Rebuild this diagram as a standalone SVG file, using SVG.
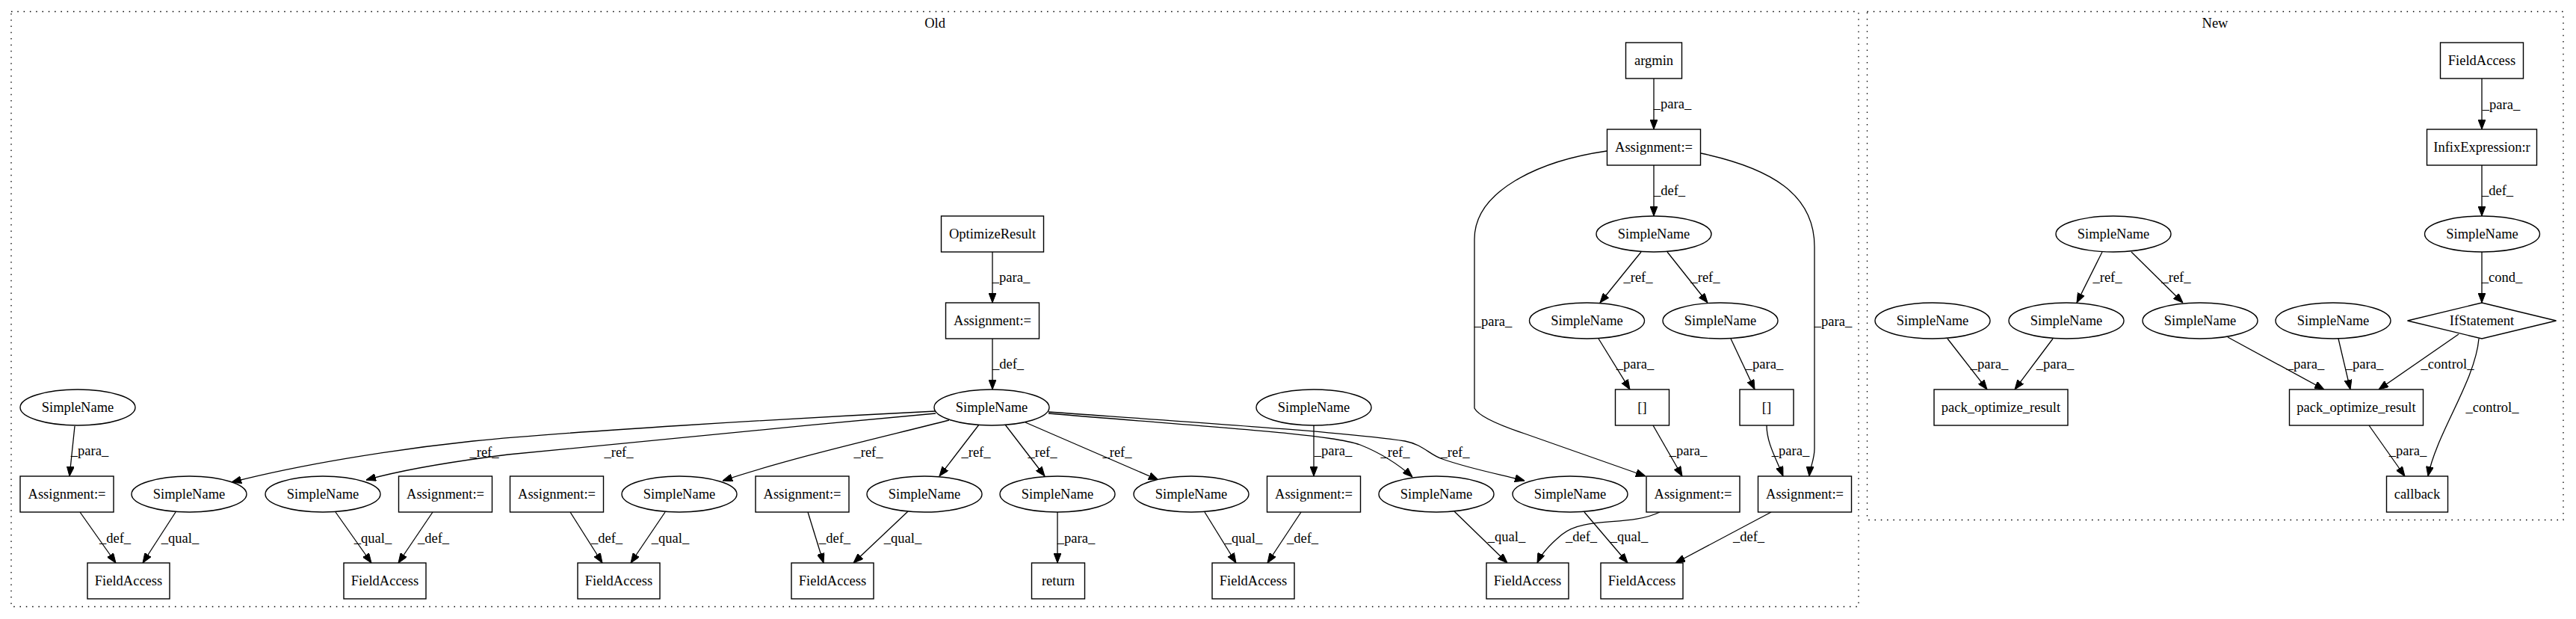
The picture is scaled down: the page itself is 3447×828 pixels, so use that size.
<svg xmlns="http://www.w3.org/2000/svg" width="3447" height="828" viewBox="0 0 3447 828">
<style>
text{font-family:"Liberation Serif","Times New Roman",serif;font-size:18.5px;fill:#000;text-anchor:middle}
.n rect,.n ellipse,.n polygon{fill:#fff;stroke:#000;stroke-width:1.4}
.e path{fill:none;stroke:#000;stroke-width:1.3;marker-end:url(#arr)}
.cl{fill:none;stroke:#000;stroke-width:1.3;stroke-dasharray:1.5 6.8}
</style>
<defs>
<marker id="arr" viewBox="0 0 13 10" refX="13" refY="5" markerWidth="13" markerHeight="10" markerUnits="userSpaceOnUse" orient="auto">
<path d="M0,0 L13,5 L0,10 z" fill="#000" stroke="#000" stroke-width="1"/>
</marker>
</defs>
<rect width="3447" height="828" fill="#fff"/>
<g id="clusters">
<rect class="cl" x="15" y="15.5" width="2472" height="796"/>
<text x="1251" y="37">Old</text>
<rect class="cl" x="2498.5" y="15.5" width="931.5" height="680"/>
<text x="2964" y="37">New</text>
</g>
<g id="connectors" class="e">
<path d="M2213,105 L2213,173"/>
<path d="M2213,221 L2213,289"/>
<path d="M2150,202 C2060,215 1973,255 1973,320 L1973,546 Q1980,560 2040,580 L2202,637"/>
<path d="M2276,205 C2370,225 2428,260 2428,330 L2428,600 C2428,615 2422,625 2421,637"/>
<path d="M2196,337 L2141,405"/>
<path d="M2231,337 L2285,405"/>
<path d="M2139,453 L2181,521"/>
<path d="M2316,453 L2348,521"/>
<path d="M2212,569 L2251,637"/>
<path d="M2364,569 C2364,592 2376,612 2386,637"/>
<path d="M2221,685 C2180,705 2120,690 2090,715 C2072,730 2062,742 2057,753"/>
<path d="M2370,685 L2242,753"/>
<path d="M1946,684 L2017,753"/>
<path d="M2120,685 L2178,753"/>
<path d="M1328,337 L1328,405"/>
<path d="M1328,453 L1328,521"/>
<path d="M1252,550 C1050,560 750,578 633,590 C520,602 400,622 310,645"/>
<path d="M1252,553 C1050,572 800,595 680,608 C600,618 540,628 490,642"/>
<path d="M1270,562 C1180,585 1060,612 967,643"/>
<path d="M1310,568 L1257,637"/>
<path d="M1345,568 L1398,637"/>
<path d="M1372,565 L1550,642"/>
<path d="M1403,553 C1600,570 1780,580 1820,595 C1850,607 1870,620 1890,638"/>
<path d="M1403,551 C1600,565 1800,578 1880,590 C1905,595 1912,608 1930,614 C1970,628 2010,635 2040,643"/>
<path d="M1415,685 L1415,753"/>
<path d="M1758,569 L1758,637"/>
<path d="M1741,685 L1696,753"/>
<path d="M1612,685 L1654,753"/>
<path d="M100,570 L93,637"/>
<path d="M107,685 L155,753"/>
<path d="M235,685 L191,753"/>
<path d="M449,685 L497,753"/>
<path d="M579,685 L533,753"/>
<path d="M763,685 L806,753"/>
<path d="M890,685 L844,753"/>
<path d="M1081,685 L1102,753"/>
<path d="M1215,684 L1142,753"/>
<path d="M3321,105 L3321,173"/>
<path d="M3321,221 L3321,289"/>
<path d="M3321,337 L3321,405"/>
<path d="M2813,337 L2779,405"/>
<path d="M2852,337 L2921,405"/>
<path d="M2606,453 L2659,521"/>
<path d="M2747,453 L2696,521"/>
<path d="M2981,451 L3110,521"/>
<path d="M3129,453 L3145,521"/>
<path d="M3290,447 L3183,521"/>
<path d="M3317,453 C3312,510 3260,580 3249,637"/>
<path d="M3170,569 L3218,637"/>
</g>
<g id="edge-labels">
<text x="2238" y="145">_para_</text>
<text x="2234" y="261">_def_</text>
<text x="1998" y="436">_para_</text>
<text x="2453" y="436">_para_</text>
<text x="2192" y="377">_ref_</text>
<text x="2282" y="377">_ref_</text>
<text x="2188" y="493">_para_</text>
<text x="2361" y="493">_para_</text>
<text x="2259" y="609">_para_</text>
<text x="2396" y="609">_para_</text>
<text x="2116" y="724">_def_</text>
<text x="2340" y="724">_def_</text>
<text x="2016" y="724">_qual_</text>
<text x="2180" y="724">_qual_</text>
<text x="1353" y="377">_para_</text>
<text x="1349" y="493">_def_</text>
<text x="648" y="611">_ref_</text>
<text x="828" y="611">_ref_</text>
<text x="1162" y="611">_ref_</text>
<text x="1306" y="611">_ref_</text>
<text x="1395" y="611">_ref_</text>
<text x="1495" y="611">_ref_</text>
<text x="1867" y="611">_ref_</text>
<text x="1947" y="611">_ref_</text>
<text x="1440" y="726">_para_</text>
<text x="1784" y="609">_para_</text>
<text x="1743" y="726">_def_</text>
<text x="1664" y="726">_qual_</text>
<text x="120" y="609">_para_</text>
<text x="154" y="726">_def_</text>
<text x="241" y="726">_qual_</text>
<text x="499" y="726">_qual_</text>
<text x="580" y="726">_def_</text>
<text x="812" y="726">_def_</text>
<text x="897" y="726">_qual_</text>
<text x="1117" y="726">_def_</text>
<text x="1208" y="726">_qual_</text>
<text x="3347" y="146">_para_</text>
<text x="3342" y="261">_def_</text>
<text x="3348" y="377">_cond_</text>
<text x="2820" y="377">_ref_</text>
<text x="2912" y="377">_ref_</text>
<text x="2662" y="493">_para_</text>
<text x="2750" y="493">_para_</text>
<text x="3085" y="493">_para_</text>
<text x="3164" y="493">_para_</text>
<text x="3275" y="493">_control_</text>
<text x="3335" y="551">_control_</text>
<text x="3222" y="609">_para_</text>
</g>
<g id="o_argmin" class="n"><rect x="2175.5" y="57" width="75" height="48"/><text x="2213" y="87">argmin</text></g>
<g id="o_assign0" class="n"><rect x="2150.5" y="173" width="125" height="48"/><text x="2213" y="203">Assignment:=</text></g>
<g id="o_optres" class="n"><rect x="1259.5" y="289" width="137" height="48"/><text x="1328" y="319">OptimizeResult</text></g>
<g id="o_sn0" class="n"><ellipse cx="2213" cy="313" rx="77" ry="24"/><text x="2213" y="319">SimpleName</text></g>
<g id="o_assign1" class="n"><rect x="1265.5" y="405" width="125" height="48"/><text x="1328" y="435">Assignment:=</text></g>
<g id="o_sn1" class="n"><ellipse cx="2123.5" cy="429" rx="77" ry="24"/><text x="2123.5" y="435">SimpleName</text></g>
<g id="o_sn2" class="n"><ellipse cx="2302" cy="429" rx="77" ry="24"/><text x="2302" y="435">SimpleName</text></g>
<g id="o_sn3" class="n"><ellipse cx="104" cy="545" rx="77" ry="24"/><text x="104" y="551">SimpleName</text></g>
<g id="o_snm" class="n"><ellipse cx="1327" cy="545" rx="77" ry="24"/><text x="1327" y="551">SimpleName</text></g>
<g id="o_sn4" class="n"><ellipse cx="1758" cy="545" rx="77" ry="24"/><text x="1758" y="551">SimpleName</text></g>
<g id="o_br1" class="n"><rect x="2161.5" y="521" width="72" height="48"/><text x="2197.5" y="551">[]</text></g>
<g id="o_br2" class="n"><rect x="2328" y="521" width="72" height="48"/><text x="2364" y="551">[]</text></g>
<g id="o_a6_1" class="n"><rect x="27" y="637" width="125" height="48"/><text x="89.5" y="667">Assignment:=</text></g>
<g id="o_s6_1" class="n"><ellipse cx="253" cy="661" rx="77" ry="24"/><text x="253" y="667">SimpleName</text></g>
<g id="o_s6_2" class="n"><ellipse cx="432" cy="661" rx="77" ry="24"/><text x="432" y="667">SimpleName</text></g>
<g id="o_a6_2" class="n"><rect x="533.5" y="637" width="125" height="48"/><text x="596" y="667">Assignment:=</text></g>
<g id="o_a6_3" class="n"><rect x="682.5" y="637" width="125" height="48"/><text x="745" y="667">Assignment:=</text></g>
<g id="o_s6_3" class="n"><ellipse cx="909" cy="661" rx="77" ry="24"/><text x="909" y="667">SimpleName</text></g>
<g id="o_a6_4" class="n"><rect x="1011" y="637" width="125" height="48"/><text x="1073.5" y="667">Assignment:=</text></g>
<g id="o_s6_4" class="n"><ellipse cx="1237" cy="661" rx="77" ry="24"/><text x="1237" y="667">SimpleName</text></g>
<g id="o_s6_5" class="n"><ellipse cx="1415" cy="661" rx="77" ry="24"/><text x="1415" y="667">SimpleName</text></g>
<g id="o_s6_6" class="n"><ellipse cx="1594" cy="661" rx="77" ry="24"/><text x="1594" y="667">SimpleName</text></g>
<g id="o_a6_5" class="n"><rect x="1695.5" y="637" width="125" height="48"/><text x="1758" y="667">Assignment:=</text></g>
<g id="o_s6_7" class="n"><ellipse cx="1922" cy="661" rx="77" ry="24"/><text x="1922" y="667">SimpleName</text></g>
<g id="o_s6_8" class="n"><ellipse cx="2101" cy="661" rx="77" ry="24"/><text x="2101" y="667">SimpleName</text></g>
<g id="o_a6_6" class="n"><rect x="2203" y="637" width="125" height="48"/><text x="2265.5" y="667">Assignment:=</text></g>
<g id="o_a6_7" class="n"><rect x="2352.5" y="637" width="125" height="48"/><text x="2415" y="667">Assignment:=</text></g>
<g id="o_fa1" class="n"><rect x="117" y="753" width="110" height="48"/><text x="172" y="783">FieldAccess</text></g>
<g id="o_fa2" class="n"><rect x="460" y="753" width="110" height="48"/><text x="515" y="783">FieldAccess</text></g>
<g id="o_fa3" class="n"><rect x="773" y="753" width="110" height="48"/><text x="828" y="783">FieldAccess</text></g>
<g id="o_fa4" class="n"><rect x="1059" y="753" width="110" height="48"/><text x="1114" y="783">FieldAccess</text></g>
<g id="o_return" class="n"><rect x="1380.5" y="753" width="71" height="48"/><text x="1416" y="783">return</text></g>
<g id="o_fa5" class="n"><rect x="1622" y="753" width="110" height="48"/><text x="1677" y="783">FieldAccess</text></g>
<g id="o_fa6" class="n"><rect x="1989" y="753" width="110" height="48"/><text x="2044" y="783">FieldAccess</text></g>
<g id="o_fa7" class="n"><rect x="2142" y="753" width="110" height="48"/><text x="2197" y="783">FieldAccess</text></g>
<g id="n_fa" class="n"><rect x="3265.5" y="57" width="111" height="48"/><text x="3321" y="87">FieldAccess</text></g>
<g id="n_infix" class="n"><rect x="3247.5" y="173" width="147" height="48"/><text x="3321" y="203">InfixExpression:r</text></g>
<g id="n_sn0" class="n"><ellipse cx="2828" cy="313" rx="77" ry="24"/><text x="2828" y="319">SimpleName</text></g>
<g id="n_sn1" class="n"><ellipse cx="3321.5" cy="313" rx="77" ry="24"/><text x="3321.5" y="319">SimpleName</text></g>
<g id="n_sn2" class="n"><ellipse cx="2586" cy="429" rx="77" ry="24"/><text x="2586" y="435">SimpleName</text></g>
<g id="n_sn3" class="n"><ellipse cx="2765" cy="429" rx="77" ry="24"/><text x="2765" y="435">SimpleName</text></g>
<g id="n_sn4" class="n"><ellipse cx="2944" cy="429" rx="77" ry="24"/><text x="2944" y="435">SimpleName</text></g>
<g id="n_sn5" class="n"><ellipse cx="3122" cy="429" rx="77" ry="24"/><text x="3122" y="435">SimpleName</text></g>
<g id="n_if" class="n"><polygon points="3321,405 3420.5,429 3321,453 3221.5,429"/><text x="3321" y="435">IfStatement</text></g>
<g id="n_por1" class="n"><rect x="2588" y="521" width="179" height="48"/><text x="2677.5" y="551">pack_optimize_result</text></g>
<g id="n_por2" class="n"><rect x="3063.5" y="521" width="179" height="48"/><text x="3153" y="551">pack_optimize_result</text></g>
<g id="n_callback" class="n"><rect x="3193.5" y="637" width="82" height="48"/><text x="3234.5" y="667">callback</text></g>
</svg>
